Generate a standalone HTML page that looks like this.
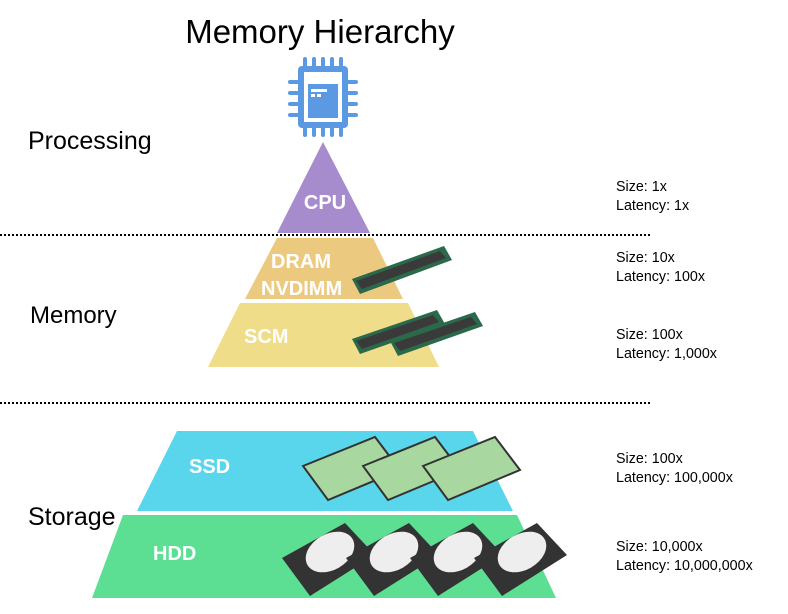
<!DOCTYPE html>
<html><head><meta charset="utf-8"><style>
body{margin:0;background:#fff;width:788px;height:609px;overflow:hidden;font-family:"Liberation Sans",Arial,sans-serif}
</style></head><body>
<svg width="788" height="609" xmlns="http://www.w3.org/2000/svg" font-family="Liberation Sans, Arial, sans-serif">
<text x="320" y="43" font-size="33" text-anchor="middle" fill="#000">Memory Hierarchy</text>
<text x="28" y="149" font-size="25">Processing</text>
<text x="30" y="323" font-size="24">Memory</text>
<text x="28" y="525" font-size="25">Storage</text>
<line x1="0" y1="235" x2="652" y2="235" stroke="#000" stroke-width="2" stroke-dasharray="2,2"/>
<line x1="0" y1="403" x2="652" y2="403" stroke="#000" stroke-width="2" stroke-dasharray="2,2"/>
<!-- chip -->
<g fill="#5b9ae3">
<rect x="298" y="66" width="50" height="62" rx="4"/>
<g stroke="#5b9ae3" stroke-width="4" stroke-linecap="round">
<line x1="305" y1="59" x2="305" y2="66"/><line x1="314" y1="59" x2="314" y2="66"/><line x1="323" y1="59" x2="323" y2="66"/><line x1="332" y1="59" x2="332" y2="66"/><line x1="341" y1="59" x2="341" y2="66"/>
<line x1="305" y1="128" x2="305" y2="135"/><line x1="314" y1="128" x2="314" y2="135"/><line x1="323" y1="128" x2="323" y2="135"/><line x1="332" y1="128" x2="332" y2="135"/><line x1="341" y1="128" x2="341" y2="135"/>
<line x1="290" y1="82" x2="298" y2="82"/><line x1="290" y1="93" x2="298" y2="93"/><line x1="290" y1="104" x2="298" y2="104"/><line x1="290" y1="115" x2="298" y2="115"/>
<line x1="348" y1="82" x2="356" y2="82"/><line x1="348" y1="93" x2="356" y2="93"/><line x1="348" y1="104" x2="356" y2="104"/><line x1="348" y1="115" x2="356" y2="115"/>
</g></g>
<rect x="304" y="72" width="38" height="50" fill="#fff"/>
<rect x="308" y="84" width="30" height="34" fill="#5b9ae3"/>
<rect x="311" y="89" width="16" height="3" fill="#fff"/><rect x="311" y="94" width="4" height="3" fill="#fff"/><rect x="317" y="94" width="4" height="3" fill="#fff"/>
<!-- pyramid -->
<polygon points="323,142 370,233 277,233" fill="#a68bcd"/>
<polygon points="277,238 373,238 403,299 245,299" fill="#ebca80"/>
<polygon points="240,303 408,303 439,367 208,367" fill="#f0dd8a"/>
<polygon points="177,431 473,431 513,511 137,511" fill="#5ad6ec"/>
<polygon points="123,515 517,515 556,598 92,598" fill="#5ddf93"/>
<g fill="#fff" font-weight="bold" font-size="20">
<text x="325" y="209" text-anchor="middle">CPU</text>
<text x="271" y="268">DRAM</text>
<text x="261" y="295">NVDIMM</text>
<text x="244" y="343">SCM</text>
<text x="189" y="473">SSD</text>
<text x="153" y="560">HDD</text>
</g>
<!-- RAM sticks -->
<g>
<polygon points="352,279 444,246 452,260 360,294" fill="#2a6a4a"/>
<polygon points="356,281 440,251 446,258 362,289" fill="#3a3a3a"/>
<polygon points="352,339 437,310 445,324 360,354" fill="#2a6a4a"/>
<polygon points="356,341 433,315 439,322 362,349" fill="#3a3a3a"/>
<polygon points="390,341 475,312 483,326 398,356" fill="#2a6a4a"/>
<polygon points="394,343 471,317 477,324 400,351" fill="#3a3a3a"/>
</g>
<!-- SSDs -->
<g stroke="#333" stroke-width="2">
<polygon points="303,466 375,437 400,470 328,500" fill="#a8d8a0"/>
<polygon points="363,466 435,437 460,470 388,500" fill="#a8d8a0"/>
<polygon points="423,466 495,437 520,470 448,500" fill="#a8d8a0"/>
</g>
<!-- HDDs -->
<g>
<g><polygon points="282,558 345,523 375,555 310,596" fill="#333"/><ellipse cx="330" cy="552" rx="26" ry="18" fill="#eee" transform="rotate(-30 330 552)"/></g>
<g transform="translate(64,0)"><polygon points="282,558 345,523 375,555 310,596" fill="#333"/><ellipse cx="330" cy="552" rx="26" ry="18" fill="#eee" transform="rotate(-30 330 552)"/></g>
<g transform="translate(128,0)"><polygon points="282,558 345,523 375,555 310,596" fill="#333"/><ellipse cx="330" cy="552" rx="26" ry="18" fill="#eee" transform="rotate(-30 330 552)"/></g>
<g transform="translate(192,0)"><polygon points="282,558 345,523 375,555 310,596" fill="#333"/><ellipse cx="330" cy="552" rx="26" ry="18" fill="#eee" transform="rotate(-30 330 552)"/></g>
</g>
<g font-size="14.3" fill="#000">
<text x="616" y="191">Size: 1x</text><text x="616" y="210">Latency: 1x</text>
<text x="616" y="262">Size: 10x</text><text x="616" y="281">Latency: 100x</text>
<text x="616" y="339">Size: 100x</text><text x="616" y="358">Latency: 1,000x</text>
<text x="616" y="463">Size: 100x</text><text x="616" y="482">Latency: 100,000x</text>
<text x="616" y="551">Size: 10,000x</text><text x="616" y="570">Latency: 10,000,000x</text>
</g>
</svg>
</body></html>
